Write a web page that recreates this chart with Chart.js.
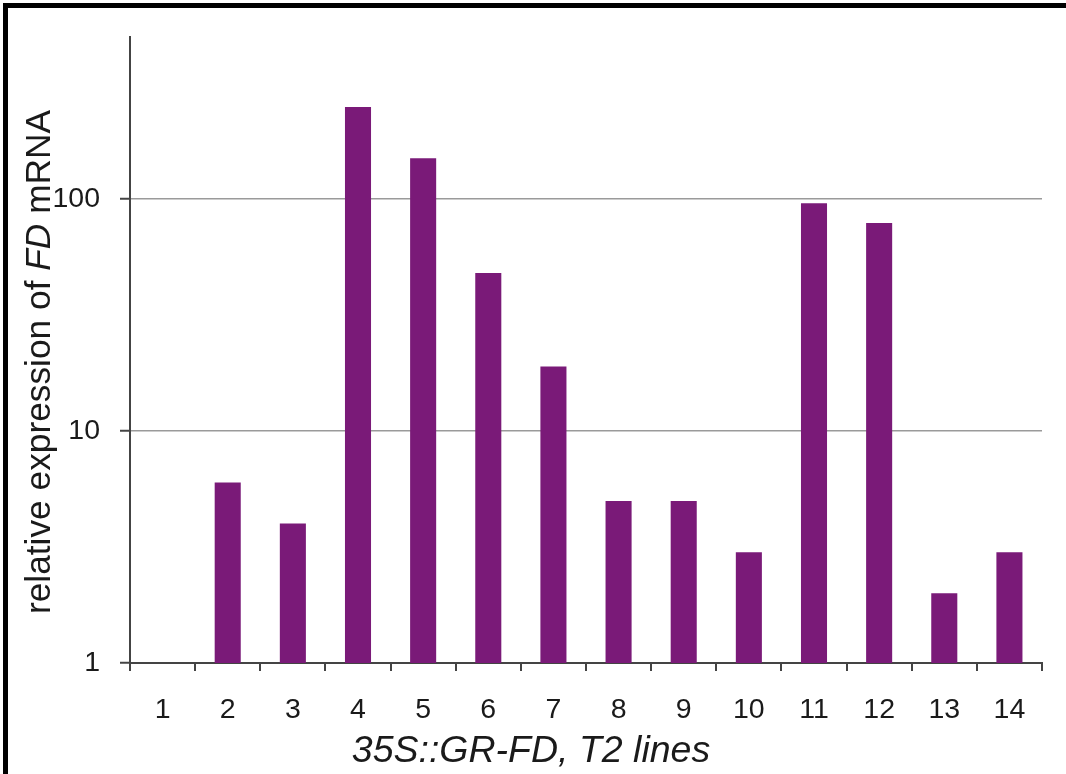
<!DOCTYPE html>
<html>
<head>
<meta charset="utf-8">
<script src="https://cdn.jsdelivr.net/npm/chart.js@4/dist/chart.umd.min.js"></script>
<style>
  html, body { margin: 0; padding: 0; background: #fff; }
  #wrap { position: relative; width: 1066px; height: 774px; overflow: hidden; }
  #frame { position: absolute; left: 3px; top: 3px; width: 1200px; height: 900px;
           border-top: 5px solid #000; border-left: 5px solid #000; pointer-events: none; }
  canvas { position: absolute; left: 0; top: 0; }
</style>
</head>
<body>
<div id="wrap">
  <canvas id="c" width="1066" height="774"></canvas>
  <div id="frame"></div>
</div>
<script>
// T2 lines of 35S::GR-FD and their relative FD mRNA levels
const lines = ['1','2','3','4','5','6','7','8','9','10','11','12','13','14'];
const expression = [1, 6, 4, 250, 150, 48, 19, 5, 5, 3, 96, 79, 2, 3];
const yTicks = [1, 10, 100];

const FONT = '"Liberation Sans", Arial, Helvetica, sans-serif';

// Axis titles: the y title carries an italic gene name, so it is composed piecewise
const axisTitles = {
  id: 'axisTitles',
  afterDraw(chart) {
    const ctx = chart.ctx;
    ctx.save();
    ctx.fillStyle = '#1a1a1a';
    ctx.textBaseline = 'alphabetic';

    // x title
    ctx.font = 'italic 37.5px ' + FONT;
    ctx.textAlign = 'center';
    ctx.fillText('35S::GR-FD, T2 lines', 531, 762);

    // y title, rotated, with italic "FD"
    const parts = [
      ['relative expression of ', 'normal'],
      ['FD', 'italic'],
      [' mRNA', 'normal']
    ];
    const size = 35.3;
    let total = 0;
    parts.forEach(p => { ctx.font = p[1] + ' ' + size + 'px ' + FONT; total += ctx.measureText(p[0]).width; });
    ctx.translate(50, 362);
    ctx.rotate(-Math.PI / 2);
    ctx.textAlign = 'left';
    let x = -total / 2;
    parts.forEach(p => {
      ctx.font = p[1] + ' ' + size + 'px ' + FONT;
      ctx.fillText(p[0], x, 0);
      x += ctx.measureText(p[0]).width;
    });
    ctx.restore();
  }
};

new Chart(document.getElementById('c'), {
  type: 'bar',
  data: {
    labels: lines,
    datasets: [{
      data: expression,
      backgroundColor: '#7a1a78',
      borderWidth: 0,
      barPercentage: 0.4,
      categoryPercentage: 1.0
    }]
  },
  plugins: [axisTitles],
  options: {
    responsive: false,
    animation: false,
    devicePixelRatio: 1,
    layout: { padding: { top: 33, right: 24, left: 0, bottom: 0 } },
    plugins: { legend: { display: false }, tooltip: { enabled: false } },
    scales: {
      x: {
        offset: true,
        grid: {
          offset: true,
          drawOnChartArea: false,
          drawTicks: true,
          tickLength: 8,
          color: '#444',
          lineWidth: 2
        },
        border: { display: true, color: '#444', width: 2 },
        ticks: {
          color: '#1a1a1a',
          font: { family: FONT, size: 28.5 },
          padding: 22,
          maxRotation: 0,
          autoSkip: false
        },
        afterFit(scale) { scale.height = 111; }
      },
      y: {
        type: 'logarithmic',
        min: 1,
        max: 500,
        afterBuildTicks(scale) { scale.ticks = yTicks.map(v => ({ value: v })); },
        grid: {
          color: '#9a9a9a',
          lineWidth: 1.5,
          tickLength: 10,
          tickColor: '#444',
          tickWidth: 2
        },
        border: { display: true, color: '#444', width: 2 },
        ticks: {
          color: '#1a1a1a',
          font: { family: FONT, size: 28.5 },
          padding: 20,
          callback: v => String(v)
        },
        afterFit(scale) { scale.width = 130; }
      }
    }
  }
});
</script>
</body>
</html>
